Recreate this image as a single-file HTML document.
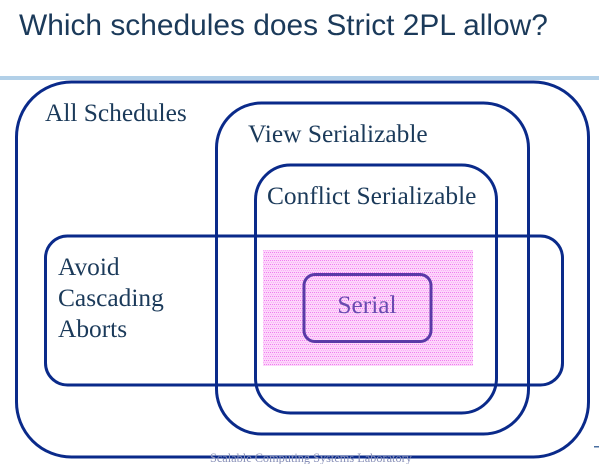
<!DOCTYPE html>
<html><head><meta charset="utf-8"><style>
html,body{margin:0;padding:0;background:#fff;width:599px;height:464px;overflow:hidden}
</style></head><body>
<svg width="599" height="464" xmlns="http://www.w3.org/2000/svg">
<defs>
<pattern id="p" width="4" height="4" patternUnits="userSpaceOnUse">
<rect width="4" height="4" fill="#fdd6fb"/>
<rect x="0" y="0" width="1" height="1" fill="#f07cf0"/>
<rect x="2" y="0" width="1" height="1" fill="#f07cf0"/>
<rect x="1" y="2" width="1" height="1" fill="#f9b0f6"/>
<rect x="3" y="2" width="1" height="1" fill="#f9b0f6"/>
</pattern>
</defs>
<text x="19" y="35" style="font-family:'Liberation Sans',sans-serif" font-size="29.9" fill="#1b3a5a">Which schedules does Strict 2PL allow?</text>
<rect x="0" y="76" width="599" height="4" fill="#b2d0e8"/>
<rect x="263" y="250" width="210" height="116" fill="url(#p)"/>
<g fill="none" stroke="#0a2a8a" stroke-width="3">
<rect x="16.5" y="82" width="572" height="375" rx="55"/>
<rect x="216.5" y="103" width="312" height="331" rx="45"/>
<rect x="255.5" y="165" width="241" height="248" rx="35"/>
<rect x="45.5" y="236" width="517" height="149" rx="22"/>
</g>
<rect x="304" y="274.5" width="127" height="67" rx="11" fill="none" stroke="#5a3aa8" stroke-width="3"/>
<g style="font-family:'Liberation Serif',serif" font-size="25.4" fill="#1b3a5a">
<text x="45" y="121">All Schedules</text>
<text x="248" y="142">View Serializable</text>
<text x="267" y="204">Conflict Serializable</text>
<text x="58" y="275">Avoid</text>
<text x="58" y="306">Cascading</text>
<text x="58" y="337">Aborts</text>
</g>
<text x="367" y="313" text-anchor="middle" style="font-family:'Liberation Serif',serif" font-size="25.4" fill="#6a4ab0">Serial</text>
<text x="210" y="462" style="font-family:'Liberation Serif',serif" font-size="12.3" fill="#8890b8">Scalable Computing Systems Laboratory</text>
<rect x="594" y="446" width="5" height="1.5" fill="#4a6fa0"/>
</svg>
</body></html>
